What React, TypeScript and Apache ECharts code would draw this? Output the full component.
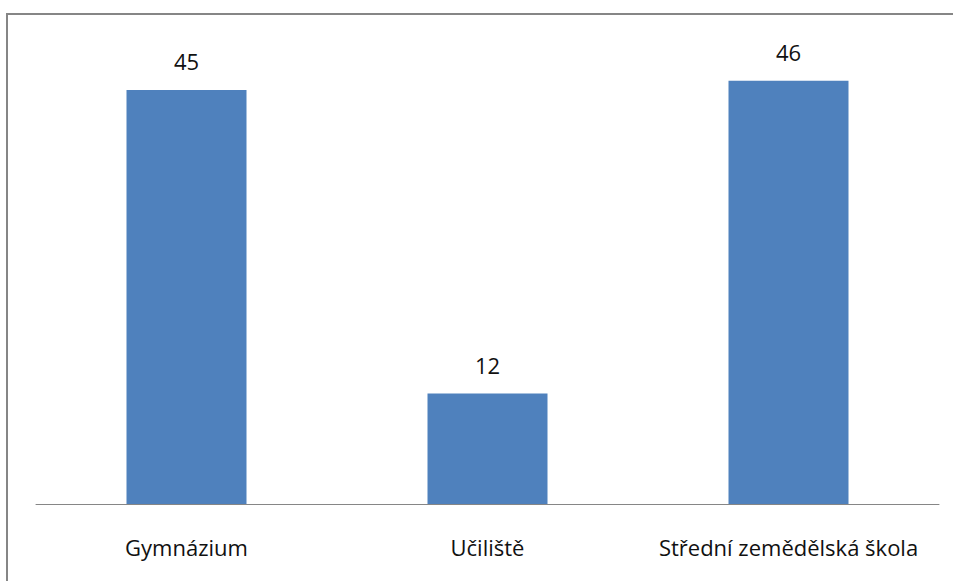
import React, { useEffect, useRef } from "react";
import * as echarts from "echarts";

const categories = ["Gymnázium", "Učiliště", "Střední zemědělská škola"];
const values = [45, 12, 46];

export default function App() {
  const ref = useRef<HTMLDivElement>(null);
  useEffect(() => {
    if (!ref.current) return;
    const chart = echarts.init(ref.current, null, { renderer: "svg" });
    chart.setOption({
      animation: false,
      backgroundColor: "#ffffff",
      graphic: [
        {
          type: "polyline",
          shape: { points: [[7, 600], [7, 14], [1000, 14]] },
          style: { fill: "none", stroke: "#868686", lineWidth: 2 },
          silent: true,
        },
      ],
      grid: { left: 36, right: 14, top: 44, bottom: 77, containLabel: false },
      xAxis: {
        type: "category",
        data: categories,
        axisLine: { lineStyle: { color: "#868686", width: 1 } },
        axisTick: { show: false },
        axisLabel: {
          interval: 0,
          hideOverlap: false,
          color: "#111111",
          fontSize: 22,
          fontFamily: "Open Sans",
          margin: 32,
        },
      },
      yAxis: {
        type: "value",
        min: 0,
        max: 50,
        show: false,
        splitLine: { show: false },
      },
      series: [
        {
          type: "bar",
          data: values,
          barWidth: 120,
          itemStyle: { color: "#4f81bd" },
          label: {
            show: true,
            position: "top",
            distance: 18,
            color: "#111111",
            fontSize: 22,
            fontFamily: "Open Sans",
          },
        },
      ],
    });
    return () => chart.dispose();
  }, []);
  return (
    <div
      ref={ref}
      style={{ position: "absolute", left: 0, top: 0, width: 953, height: 581 }}
    />
  );
}
